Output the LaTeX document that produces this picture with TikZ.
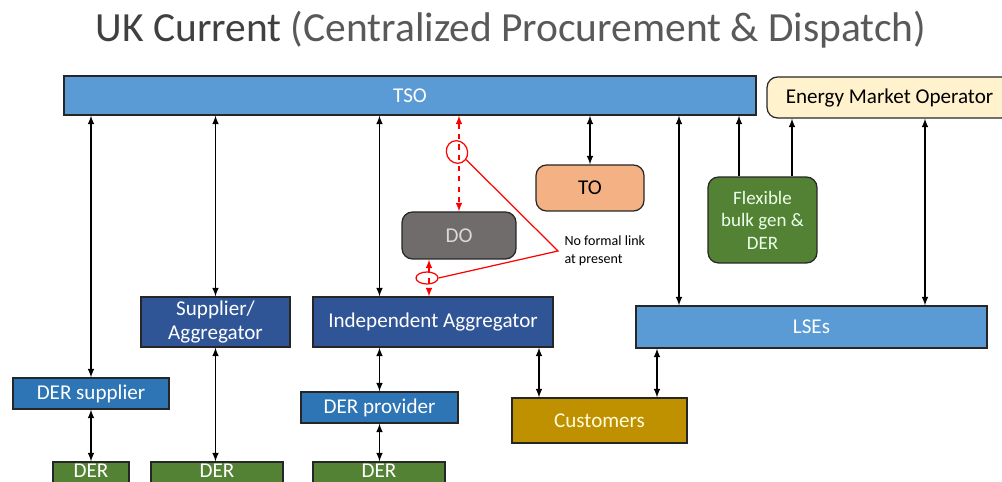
\documentclass[tikz,border=0pt]{standalone}
\usepackage{fontspec}
\setmainfont{Carlito}
\usetikzlibrary{shapes,arrows,positioning,calc}
\definecolor{tsoblue}{HTML}{5B9BD5}
\definecolor{navy}{HTML}{2F5597}
\definecolor{derblue}{HTML}{2E75B6}
\definecolor{dergreen}{HTML}{548235}
\definecolor{emoyellow}{HTML}{FFF2CC}
\definecolor{toorange}{HTML}{F4B183}
\definecolor{dogray}{HTML}{706C6C}
\definecolor{custgold}{HTML}{BF9000}
\definecolor{titlegray}{HTML}{404040}
\definecolor{titlelight}{HTML}{595959}

\begin{document}
\begin{tikzpicture}[x=0.02cm,y=-0.02cm,
    box/.style={draw=black!85,line width=0.7pt,inner sep=0pt,align=center,text=white,
      font=\fontsize{12}{14}\selectfont},
    rbox/.style={box,rounded corners=6pt},
    derbox/.style={box,fill=dergreen,minimum height=0.64cm,text depth=8pt},
    link/.style={<->,>=latex,line width=0.7pt},
    nolink/.style={link,red,dashed}]
  \useasboundingbox (0,0) rectangle (1002,482);
  \node[text=titlegray,font=\fontsize{23.6}{28}\selectfont] (title) at (511,30)
    {UK Current \textcolor{titlelight}{(Centralized Procurement \& Dispatch)}};
  % top row
  \node[box,fill=tsoblue,minimum width=13.84cm,minimum height=0.78cm] (tso) at (410,95.5) {TSO};
  \node[rbox,fill=emoyellow,text=black,minimum width=4.9cm,minimum height=0.82cm] (emo) at (889.5,97.5) {Energy Market Operator};
  % operators
  \node[rbox,fill=toorange,text=black,minimum width=2.16cm,minimum height=0.92cm] (to) at (590,188) {TO};
  \node[rbox,fill=dogray,text=black!15,minimum width=2.28cm,minimum height=0.94cm] (do) at (459,235.5) {DO};
  \node[rbox,fill=dergreen,text=green!8,minimum width=2.18cm,minimum height=1.72cm,
    font=\fontsize{10.8}{12.8}\selectfont] (flex) at (762.5,220) {Flexible\\bulk gen \&\\DER};
  % aggregators and LSEs
  \node[box,fill=navy,minimum width=2.98cm,minimum height=1.0cm] (supagg) at (215.5,322) {Supplier/\\Aggregator};
  \node[box,fill=navy,minimum width=4.8cm,minimum height=1.0cm] (indagg) at (433,322) {Independent Aggregator};
  \node[box,fill=tsoblue,minimum width=7.02cm,minimum height=0.84cm] (lses) at (811.5,327) {LSEs};
  \node[box,fill=derblue,minimum width=3.12cm,minimum height=0.62cm] (dersup) at (91,393.5) {DER supplier};
  \node[box,fill=derblue,minimum width=3.14cm,minimum height=0.62cm] (derprov) at (379.5,407.5) {DER provider};
  \node[box,fill=custgold,text=yellow!15,minimum width=3.5cm,minimum height=0.9cm] (cust) at (599.5,420.5) {Customers};
  % DER at the bottom
  \node[derbox,minimum width=1.52cm] (der1) at (91,478) {DER};
  \node[derbox,minimum width=2.64cm] (der2) at (217,478) {DER};
  \node[derbox,minimum width=2.64cm] (der3) at (379,478) {DER};
  % columns for connectors
  \coordinate (xlse) at (679,0);
  \coordinate (xflex) at (739,0);
  \coordinate (xemo) at (792,0);
  \coordinate (xlse2) at (925,0);
  \coordinate (xdo) at (429,0);
  \coordinate (xcust) at (539,0);
  \coordinate (xcust2) at (657,0);
  % connectors
  \draw[link] (tso.south -| dersup) -- (dersup.north);
  \draw[link] (dersup.south) -- (der1.north -| dersup);
  \draw[link] (tso.south -| supagg) -- (supagg.north);
  \draw[link] (supagg.south) -- (der2.north -| supagg);
  \draw[link] (tso.south -| derprov) -- (indagg.north -| derprov);
  \draw[link] (indagg.south -| derprov) -- (derprov.north);
  \draw[link] (derprov.south) -- (der3.north -| derprov);
  \draw[link] (tso.south -| to) -- (to.north);
  \draw[link] (tso.south -| xlse) -- (lses.north -| xlse);
  \draw[->,>=latex,line width=0.7pt] (flex.north -| xflex) -- (tso.south -| xflex);
  \draw[->,>=latex,line width=0.7pt] (flex.north -| xemo) -- (emo.south -| xemo);
  \draw[link] (emo.south -| xlse2) -- (lses.north -| xlse2);
  \draw[link] (indagg.south -| xcust) -- (cust.north -| xcust);
  \draw[link] (lses.south -| xcust2) -- (cust.north -| xcust2);
  % no formal link
  \draw[nolink] (tso.south -| do) -- (do.north);
  \draw[nolink] (do.south -| xdo) -- (indagg.north -| xdo);
  \node[ellipse,draw=red,line width=0.7pt,minimum width=0.42cm,minimum height=0.46cm,inner sep=0pt,rotate=25] (ring1) at (457,152) {};
  \node[ellipse,draw=red,line width=0.7pt,minimum width=0.44cm,minimum height=0.24cm,inner sep=0pt] (ring2) at (427,278) {};
  \node[anchor=west,align=left,inner sep=3.5pt,font=\fontsize{8}{10}\selectfont] (note) at (558,251) {No formal link\\at present};
  \draw[red,line width=0.7pt] (ring1.-65) -- (note.west) -- (ring2.east);
\end{tikzpicture}
\end{document}
